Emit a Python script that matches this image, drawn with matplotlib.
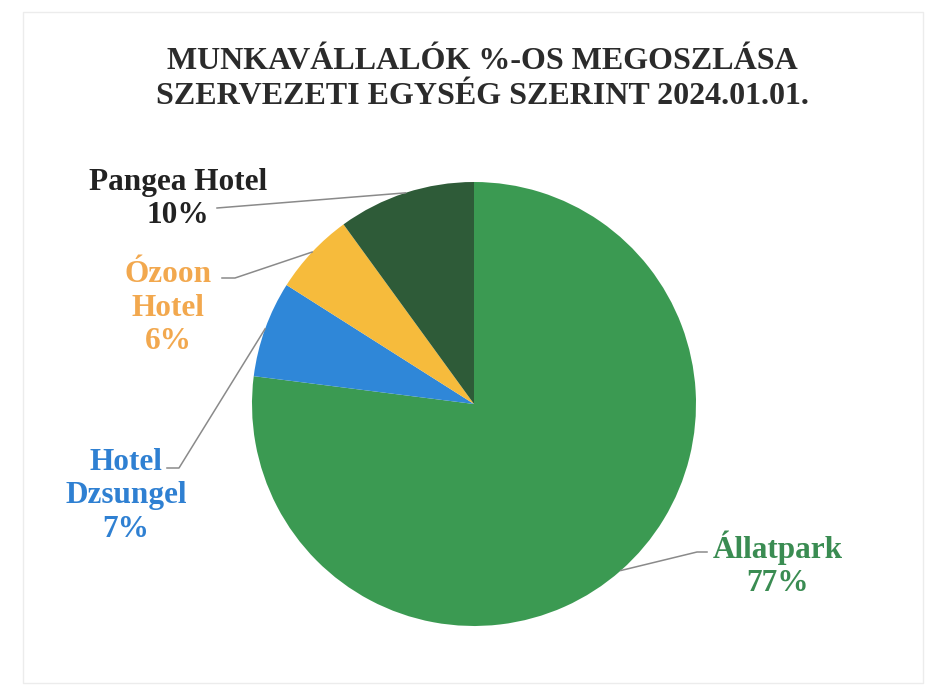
import numpy as np
import matplotlib.pyplot as plt

labels = ['Állatpark', 'Hotel\nDzsungel', 'Ózoon\nHotel', 'Pangea Hotel']
values = [77, 7, 6, 10]
slice_colors = ['#3b9a52', '#2f87d8', '#f6bb3c', '#2e5b38']
text_colors = ['#3a8c52', '#2f80d2', '#f2a84e', '#222222']

W, H = 927, 688
fig = plt.figure(figsize=(W / 100, H / 100), dpi=100)
ax = fig.add_axes([0, 0, 1, 1])

cx, cy, r = 474, H - 404, 222
wedges, _ = ax.pie(values, colors=slice_colors, startangle=90, counterclock=False,
                   center=(cx, cy), radius=r, frame=True)
ax.set_xlim(0, W)
ax.set_ylim(0, H)
ax.set_aspect('equal')
ax.axis('off')

font = dict(family=['Liberation Serif', 'DejaVu Serif'], weight='bold')

# label centre, elbow point (pixel coords, y from top)
layout = [
    ((778, 564), [(707, 552), (697, 552)]),
    ((126, 496), [(167, 468), (179, 468)]),
    ((168, 308), [(222, 278), (235, 278)]),
    ((178, 199), [(217, 208)]),
]
lab = ['Állatpark\n77%', 'Hotel\nDzsungel\n7%', 'Ózoon\nHotel\n6%', 'Pangea Hotel\n10%']
for w, (pos, pts), txt, col in zip(wedges, layout, lab, text_colors):
    ang = np.deg2rad((w.theta1 + w.theta2) / 2)
    ex, ey = cx + r * np.cos(ang), cy + r * np.sin(ang)
    xs = [p[0] for p in pts] + [ex]
    ys = [H - p[1] for p in pts] + [ey]
    ax.plot(xs, ys, color='#8a8a8a', lw=1.1)
    ax.text(pos[0], H - pos[1], txt, ha='center', va='center', color=col,
            fontsize=22.5, linespacing=1.2, **font)

ax.text(482, H - 79, 'MUNKAVÁLLALÓK %-OS MEGOSZLÁSA\nSZERVEZETI EGYSÉG SZERINT 2024.01.01.',
        ha='center', va='center', color='#2b2b2b', fontsize=23, linespacing=1.3, **font)

ax.add_patch(plt.Rectangle((23, 5), 900, H - 17, fill=False, ec='#ececec', lw=1))

fig.savefig('out.png', dpi=100)
